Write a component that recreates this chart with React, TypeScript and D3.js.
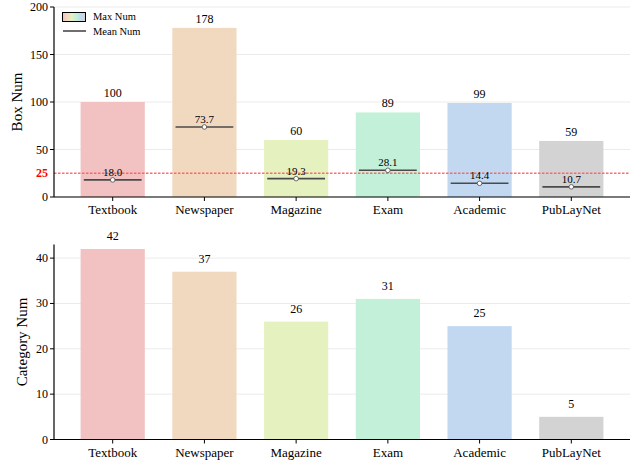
import React from "react";
import * as d3 from "d3";

const categories = ["Textbook", "Newspaper", "Magazine", "Exam", "Academic", "PubLayNet"];
const maxNum = [100, 178, 60, 89, 99, 59];
const meanNum = [18.0, 73.7, 19.3, 28.1, 14.4, 10.7];
const categoryNum = [42, 37, 26, 31, 25, 5];
const colors = ["#f2c2c2", "#f1d9c0", "#e5f2c0", "#c2f0d8", "#c2d8f0", "#d3d3d3"];
const topTicks = [0, 50, 100, 150, 200];
const bottomTicks = [0, 10, 20, 30, 40];
const threshold = 25;

const W = 632;
const H = 463;
const TS = { fontFamily: "Liberation Serif" };

export default function App() {
  const left = 54;
  const right = 630;
  const x = d3.scaleLinear().domain([-0.64, 5.64]).range([left, right]);
  const step = x(1) - x(0);
  const bw = step * 0.7;
  const lineW = bw * 0.9;

  const yTop = d3.scaleLinear().domain([0, 200]).range([197, 7]);
  const yBot = d3.scaleLinear().domain([0, 43]).range([439.5, 244.5]);

  const xAxis = (y0: number) => (
    <g>
      <line x1={left} x2={right} y1={y0} y2={y0} stroke="#000" strokeWidth={1.2} />
      {categories.map((c, i) => (
        <g key={c}>
          <line x1={x(i)} x2={x(i)} y1={y0} y2={y0 + 4} stroke="#000" strokeWidth={1} />
          <text x={x(i)} y={y0 + 17} textAnchor="middle" fontSize={13} style={TS}>
            {c}
          </text>
        </g>
      ))}
    </g>
  );

  return (
    <svg width={W} height={H} style={{ position: "absolute", left: 0, top: 0 }}>
      <defs>
        <linearGradient id="legGrad" x1="0" x2="1" y1="0" y2="0">
          {colors.map((c, i) => (
            <stop key={i} offset={i / (colors.length - 1)} stopColor={c} />
          ))}
        </linearGradient>
      </defs>
      <rect width={W} height={H} fill="#fff" />

      {/* TOP CHART */}
      {topTicks.map((t) => (
        <line key={t} x1={left} x2={right} y1={yTop(t)} y2={yTop(t)} stroke="#ebebeb" strokeWidth={1} />
      ))}
      {categories.map((c, i) => (
        <rect key={c} x={x(i) - bw / 2} width={bw} y={yTop(maxNum[i])} height={yTop(0) - yTop(maxNum[i])} fill={colors[i]} />
      ))}
      {categories.map((c, i) => (
        <text key={c} x={x(i)} y={yTop(maxNum[i]) - 5} textAnchor="middle" fontSize={12} style={TS}>
          {maxNum[i]}
        </text>
      ))}
      <line x1={left} x2={right} y1={yTop(threshold)} y2={yTop(threshold)} stroke="#ff5555" strokeOpacity={0.85} strokeWidth={1.3} strokeDasharray="2.5,1.5" />
      {categories.map((c, i) => (
        <g key={c}>
          <line x1={x(i) - lineW / 2} x2={x(i) + lineW / 2} y1={yTop(meanNum[i])} y2={yTop(meanNum[i])} stroke="#4a4a4a" strokeWidth={1.6} />
          <circle cx={x(i)} cy={yTop(meanNum[i])} r={2.3} fill="#fff" stroke="#4a4a4a" strokeWidth={0.8} />
          <text x={x(i)} y={yTop(meanNum[i]) - 4} textAnchor="middle" fontSize={11} style={TS}>
            {meanNum[i].toFixed(1)}
          </text>
        </g>
      ))}
      <line x1={left} x2={left} y1={yTop(200)} y2={yTop(0)} stroke="#000" strokeWidth={1.2} />
      {topTicks.map((t) => (
        <g key={t}>
          <line x1={left - 4} x2={left} y1={yTop(t)} y2={yTop(t)} stroke="#000" />
          <text x={left - 6} y={yTop(t) + 4} textAnchor="end" fontSize={12} style={TS}>
            {t}
          </text>
        </g>
      ))}
      <text x={left - 6} y={yTop(threshold) + 4} textAnchor="end" fontSize={12} fill="#ff0000" fontWeight="bold" style={TS}>
        {threshold}
      </text>
      {xAxis(yTop(0))}
      <text transform={`translate(22,${(yTop(0) + yTop(200)) / 2}) rotate(-90)`} textAnchor="middle" fontSize={15} style={TS}>
        Box Num
      </text>

      {/* legend */}
      <rect x={62.5} y={12.5} width={23} height={9} fill="url(#legGrad)" stroke="#000" strokeWidth={1} />
      <text x={93} y={20} fontSize={10.5} style={TS}>Max Num</text>
      <line x1={63} x2={86} y1={31} y2={31} stroke="#4a4a4a" strokeWidth={1.6} />
      <text x={93} y={35} fontSize={10.5} style={TS}>Mean Num</text>

      {/* BOTTOM CHART */}
      {bottomTicks.map((t) => (
        <line key={t} x1={left} x2={right} y1={yBot(t)} y2={yBot(t)} stroke="#ebebeb" strokeWidth={1} />
      ))}
      {categories.map((c, i) => (
        <rect key={c} x={x(i) - bw / 2} width={bw} y={yBot(categoryNum[i])} height={yBot(0) - yBot(categoryNum[i])} fill={colors[i]} />
      ))}
      {categories.map((c, i) => (
        <text key={c} x={x(i)} y={yBot(categoryNum[i]) - 9} textAnchor="middle" fontSize={12} style={TS}>
          {categoryNum[i]}
        </text>
      ))}
      <line x1={left} x2={left} y1={yBot(43)} y2={yBot(0)} stroke="#000" strokeWidth={1.2} />
      {bottomTicks.map((t) => (
        <g key={t}>
          <line x1={left - 4} x2={left} y1={yBot(t)} y2={yBot(t)} stroke="#000" />
          <text x={left - 6} y={yBot(t) + 4} textAnchor="end" fontSize={12} style={TS}>
            {t}
          </text>
        </g>
      ))}
      {xAxis(yBot(0))}
      <text transform={`translate(27,${(yBot(0) + yBot(43)) / 2}) rotate(-90)`} textAnchor="middle" fontSize={15} style={TS}>
        Category Num
      </text>
    </svg>
  );
}
